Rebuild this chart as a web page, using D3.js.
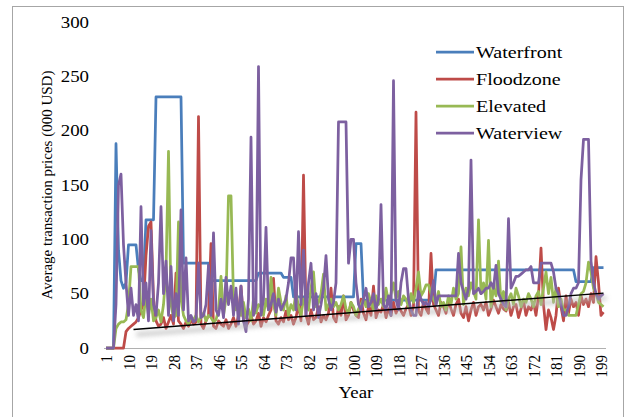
<!DOCTYPE html>
<html><head><meta charset="utf-8">
<script src="https://cdn.jsdelivr.net/npm/d3@7"></script>
<style>html,body{margin:0;padding:0;background:#fff;}svg{display:block;}</style>
</head><body>
<script>
const categories = d3.range(1, 201);
const tickLabels = d3.range(1, 201, 9);
const yTicks = [0, 50, 100, 150, 200, 250, 300];
const seriesNames = ["Waterfront", "Floodzone", "Elevated", "Waterview"];
const colors = ["#4a7ebb", "#be4b48", "#98b954", "#7d60a0"];

const waterfront = [
0,0,0,0,188,90,62,55,60,95,
95,95,95,72,62,62,118,118,118,118,
231,231,231,231,231,231,231,231,231,231,
231,78,78,78,78,78,78,78,78,78,
78,78,62,62,62,62,62,62,62,62,
62,62,62,62,62,62,62,62,62,62,
62,69,69,69,69,69,69,69,69,69,
69,65,65,65,65,47,47,47,47,47,
47,47,47,47,47,47,47,47,47,47,
47,47,47,47,47,47,47,47,47,47,
96,96,96,44,44,44,44,44,44,44,
44,44,44,44,44,44,44,44,44,44,
44,44,44,44,44,44,44,44,44,44,
44,44,72,72,72,72,72,72,72,72,
72,72,72,72,72,72,72,72,72,72,
72,72,72,72,72,72,72,72,72,72,
72,72,72,72,72,72,72,72,72,72,
72,72,72,72,72,72,72,72,72,72,
72,72,72,72,72,72,72,72,61,61,
61,61,61,61,61,74,74,74,74,74];

const floodzone = [
0,0,0,0,0,0,0,0,15,18,
20,22,24,28,35,40,85,112,116,45,
25,20,22,28,18,24,30,22,69,25,
22,18,24,20,26,22,24,213,22,18,
25,30,96,20,18,25,22,20,26,18,
22,28,20,30,57,25,20,24,30,22,
25,32,20,28,24,30,35,64,25,22,
28,24,34,26,30,22,28,40,25,159,
30,22,35,26,28,38,24,30,26,32,
55,28,24,38,30,48,26,30,42,35,
30,28,45,32,26,38,30,57,28,35,
33,40,28,36,30,42,32,38,34,30,
36,40,30,38,217,34,30,42,36,32,
87,40,35,30,42,38,32,44,36,30,
40,45,32,28,38,25,35,42,30,38,
40,35,42,30,36,44,38,32,40,36,
34,42,30,38,40,28,36,44,30,38,
35,42,30,48,92,40,17,35,28,17,
30,55,38,25,48,32,45,38,42,30,
48,40,45,38,50,42,84,60,30,33];

const elevated = [
0,0,0,0,18,22,24,24,26,40,
75,75,75,75,35,28,50,30,45,25,
28,35,24,40,70,181,40,28,30,116,
45,30,25,22,28,26,30,24,28,32,
25,30,28,24,26,35,66,30,45,140,
140,45,35,40,30,42,28,36,25,45,
32,40,38,30,45,35,65,40,30,55,
42,35,48,30,40,35,52,38,30,45,
40,35,55,70,38,42,50,68,35,40,
45,38,42,35,40,48,36,32,42,38,
30,36,40,45,38,50,42,35,48,40,
45,38,55,42,50,60,45,52,40,48,
45,38,50,42,55,70,48,52,58,58,
50,45,40,52,38,42,35,48,40,55,
45,50,93,40,55,48,60,52,45,118,
50,60,45,99,38,55,48,80,42,52,
35,45,50,40,55,48,38,45,42,50,
45,38,48,52,40,55,70,50,65,42,
55,38,45,35,35,30,30,30,30,40,
50,52,60,79,70,55,50,42,40,38];

const waterview = [
0,0,0,0,40,150,160,95,60,30,
55,30,40,25,130,40,60,25,108,40,
30,60,130,50,80,30,75,25,50,30,
127,35,83,25,30,24,26,78,28,30,
40,76,30,106,35,30,45,28,65,40,
57,30,55,22,57,25,15,45,194,30,
40,259,30,45,111,35,40,50,33,45,
35,40,45,60,83,83,35,107,40,90,
30,60,78,35,50,28,40,55,85,45,
35,42,60,208,208,208,208,78,100,100,
60,40,35,45,55,38,42,50,35,45,
132,40,35,48,30,246,45,35,60,73,
73,45,35,30,30,52,45,40,42,38,
45,62,40,48,48,48,48,48,48,48,
48,87,60,52,45,55,173,50,52,55,
50,52,55,55,60,55,76,50,45,40,
38,119,55,60,66,66,68,70,72,72,
75,60,60,60,78,78,78,78,78,70,
55,50,40,30,30,38,50,55,55,60,
155,192,192,192,80,60,50,45,48,50];

const trend = [{x: 12, y: 17}, {x: 200, y: 50.5}];

const W = 627, H = 417;
const svg = d3.select("body").append("svg").attr("width", W).attr("height", H);
const font = "'Liberation Serif','Times New Roman',serif";
const stretch = 1.18;

svg.append("rect").attr("x", 12.5).attr("y", 6.5).attr("width", 611).attr("height", 430)
  .attr("fill", "#fff").attr("stroke", "#a6a6a6").attr("stroke-width", 1);

const x = d3.scalePoint().domain(categories).range([106, 603.5]);
const y = d3.scaleLinear().domain([0, 300]).range([348, 22]);

// x axis
const xAxis = d3.axisBottom(x).tickValues(tickLabels).tickSize(0).tickPadding(0);
const gx = svg.append("g").attr("transform", "translate(0,348)").call(xAxis);
gx.select(".domain").attr("d", "M104,0.5H606").attr("stroke", "#b0b0b0").attr("stroke-width", 1);
gx.selectAll(".tick text")
  .attr("font-family", font).attr("font-size", 15).attr("fill", "#000")
  .attr("text-anchor", "end").attr("dominant-baseline", "central")
  .attr("transform", "translate(0,7) rotate(-90) scale(1,1.1)").attr("x", 0).attr("y", 0).attr("dy", null);

// y axis labels
const yAxis = d3.axisLeft(y).tickValues(yTicks).tickSize(0).tickPadding(0);
const gy = svg.append("g").attr("transform", "translate(89,0)").call(yAxis);
gy.select(".domain").remove();
gy.selectAll(".tick text").attr("font-family", font).attr("font-size", 16).attr("fill", "#000")
  .attr("transform", `scale(${stretch},1)`);

// titles
svg.append("text").attr("transform", "translate(52,185) rotate(-90)")
  .attr("text-anchor", "middle").attr("font-family", font).attr("font-size", 15)
  .text("Average transaction prices (000 USD)");
svg.append("text").attr("transform", `translate(356,398) scale(${stretch},1)`).attr("text-anchor", "middle")
  .attr("font-family", font).attr("font-size", 16).text("Year");

// series
const data = [waterfront, floodzone, elevated, waterview];
const line = d3.line().x((d, i) => x(categories[i])).y(d => y(d));
data.forEach((s, k) => {
  svg.append("path").datum(s).attr("d", line).attr("fill", "none")
    .attr("stroke", colors[k]).attr("stroke-width", 2.75)
    .attr("stroke-linejoin", "round").attr("stroke-linecap", "butt");
});

// trendline with soft shadow
const defs = svg.append("defs");
const f = defs.append("filter").attr("id", "blur").attr("x", "-10%").attr("y", "-200%").attr("width", "120%").attr("height", "500%");
f.append("feGaussianBlur").attr("stdDeviation", 2.5);
const tl = d3.line().x(d => x(d.x)).y(d => y(d.y));
svg.append("path").datum(trend).attr("d", tl).attr("fill", "none").attr("stroke", "#b8b8b8")
  .attr("stroke-width", 4).attr("transform", "translate(3,5)").attr("filter", "url(#blur)").attr("opacity", 0.8);
svg.append("path").datum(trend).attr("d", tl).attr("fill", "none").attr("stroke", "#000").attr("stroke-width", 1.5);

// legend
const lg = svg.append("g");
seriesNames.forEach((n, k) => {
  const ly = 52 + k * 27;
  lg.append("line").attr("x1", 436).attr("x2", 474).attr("y1", ly).attr("y2", ly)
    .attr("stroke", colors[k]).attr("stroke-width", 2.75);
  lg.append("text").attr("transform", `translate(476,${ly + 6}) scale(${stretch},1)`)
    .attr("font-family", font).attr("font-size", 17).text(n);
});
</script>
</body></html>
